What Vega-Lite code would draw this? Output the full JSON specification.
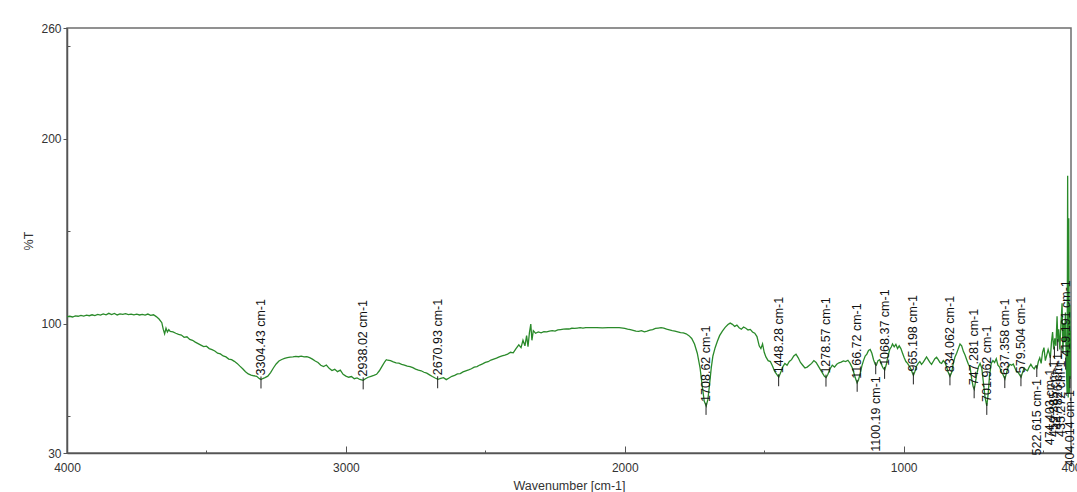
{
  "$schema": "https://vega.github.io/schema/vega-lite/v6.json",
  "width": 1004,
  "height": 425,
  "autosize": "none",
  "padding": {"left": 67, "top": 28, "right": 6, "bottom": 39},
  "background": "white",
  "config": {
    "font": "Liberation Sans",
    "view": {"stroke": "#6e6e6e", "strokeWidth": 1.5},
    "axis": {
      "domainColor": "#555555",
      "domainWidth": 1.5,
      "tickColor": "#555555",
      "labelColor": "#333333",
      "labelFontSize": 12,
      "titleColor": "#333333",
      "titleFontSize": 12.5,
      "titleFontWeight": "normal",
      "grid": false,
      "labelFlush": false,
      "labelOverlap": false
    }
  },
  "datasets": {
    "spectrum": [
      {"wn": 4000, "T": 103.8}, {"wn": 3990, "T": 104.0}, {"wn": 3980, "T": 103.6}, {"wn": 3970, "T": 104.2},
      {"wn": 3960, "T": 104.0}, {"wn": 3950, "T": 104.5}, {"wn": 3940, "T": 104.1}, {"wn": 3930, "T": 104.6},
      {"wn": 3920, "T": 104.3}, {"wn": 3910, "T": 104.8}, {"wn": 3900, "T": 104.4}, {"wn": 3890, "T": 105.0},
      {"wn": 3880, "T": 104.6}, {"wn": 3870, "T": 105.3}, {"wn": 3860, "T": 104.8}, {"wn": 3850, "T": 105.6},
      {"wn": 3840, "T": 104.9}, {"wn": 3830, "T": 105.5}, {"wn": 3820, "T": 104.7}, {"wn": 3810, "T": 105.3},
      {"wn": 3800, "T": 105.0}, {"wn": 3790, "T": 105.4}, {"wn": 3780, "T": 104.9}, {"wn": 3770, "T": 105.2},
      {"wn": 3760, "T": 104.8}, {"wn": 3750, "T": 105.1}, {"wn": 3740, "T": 104.7}, {"wn": 3730, "T": 105.0},
      {"wn": 3720, "T": 104.6}, {"wn": 3710, "T": 105.2}, {"wn": 3700, "T": 104.5}, {"wn": 3690, "T": 104.8},
      {"wn": 3680, "T": 103.8}, {"wn": 3670, "T": 102.5}, {"wn": 3660, "T": 100.5}, {"wn": 3655, "T": 97.0},
      {"wn": 3650, "T": 94.5}, {"wn": 3645, "T": 97.5}, {"wn": 3640, "T": 95.5}, {"wn": 3635, "T": 96.8},
      {"wn": 3630, "T": 95.8}, {"wn": 3620, "T": 95.5}, {"wn": 3610, "T": 94.8}, {"wn": 3600, "T": 94.2},
      {"wn": 3590, "T": 93.8}, {"wn": 3580, "T": 92.6}, {"wn": 3570, "T": 92.9}, {"wn": 3560, "T": 91.5},
      {"wn": 3550, "T": 91.0}, {"wn": 3540, "T": 90.0}, {"wn": 3530, "T": 89.2}, {"wn": 3520, "T": 88.4},
      {"wn": 3510, "T": 87.6}, {"wn": 3500, "T": 87.8}, {"wn": 3490, "T": 86.5}, {"wn": 3480, "T": 85.9},
      {"wn": 3470, "T": 85.2}, {"wn": 3460, "T": 84.0}, {"wn": 3450, "T": 83.6}, {"wn": 3440, "T": 82.5},
      {"wn": 3430, "T": 82.0}, {"wn": 3420, "T": 80.8}, {"wn": 3410, "T": 80.5}, {"wn": 3400, "T": 79.6},
      {"wn": 3390, "T": 78.5}, {"wn": 3380, "T": 77.0}, {"wn": 3370, "T": 75.6}, {"wn": 3360, "T": 74.0},
      {"wn": 3350, "T": 72.8}, {"wn": 3340, "T": 72.2}, {"wn": 3330, "T": 71.8}, {"wn": 3320, "T": 71.5},
      {"wn": 3310, "T": 70.2}, {"wn": 3304, "T": 69.8}, {"wn": 3298, "T": 70.3}, {"wn": 3290, "T": 70.8},
      {"wn": 3280, "T": 71.6}, {"wn": 3270, "T": 73.5}, {"wn": 3260, "T": 76.0}, {"wn": 3250, "T": 78.2},
      {"wn": 3240, "T": 79.8}, {"wn": 3230, "T": 80.6}, {"wn": 3220, "T": 81.2}, {"wn": 3210, "T": 81.6},
      {"wn": 3200, "T": 81.9}, {"wn": 3190, "T": 82.0}, {"wn": 3180, "T": 82.3}, {"wn": 3170, "T": 82.1},
      {"wn": 3160, "T": 82.4}, {"wn": 3150, "T": 82.0}, {"wn": 3140, "T": 82.2}, {"wn": 3130, "T": 81.6},
      {"wn": 3120, "T": 80.8}, {"wn": 3110, "T": 79.8}, {"wn": 3100, "T": 79.0}, {"wn": 3090, "T": 77.5},
      {"wn": 3080, "T": 76.8}, {"wn": 3070, "T": 77.6}, {"wn": 3060, "T": 75.8}, {"wn": 3050, "T": 74.6},
      {"wn": 3040, "T": 75.3}, {"wn": 3030, "T": 74.0}, {"wn": 3020, "T": 74.8}, {"wn": 3010, "T": 72.6},
      {"wn": 3000, "T": 71.6}, {"wn": 2990, "T": 71.0}, {"wn": 2980, "T": 71.4}, {"wn": 2970, "T": 70.2},
      {"wn": 2960, "T": 70.6}, {"wn": 2950, "T": 69.8}, {"wn": 2938, "T": 69.3}, {"wn": 2930, "T": 70.2},
      {"wn": 2920, "T": 71.0}, {"wn": 2910, "T": 71.5}, {"wn": 2900, "T": 72.0}, {"wn": 2890, "T": 72.6},
      {"wn": 2880, "T": 74.5}, {"wn": 2870, "T": 77.0}, {"wn": 2860, "T": 79.5}, {"wn": 2855, "T": 80.5},
      {"wn": 2850, "T": 80.2}, {"wn": 2840, "T": 80.0}, {"wn": 2830, "T": 79.3}, {"wn": 2820, "T": 78.8},
      {"wn": 2810, "T": 78.6}, {"wn": 2800, "T": 78.0}, {"wn": 2790, "T": 77.6}, {"wn": 2780, "T": 77.0},
      {"wn": 2770, "T": 76.8}, {"wn": 2760, "T": 76.2}, {"wn": 2750, "T": 75.4}, {"wn": 2740, "T": 74.8},
      {"wn": 2730, "T": 74.5}, {"wn": 2720, "T": 73.7}, {"wn": 2710, "T": 73.2}, {"wn": 2700, "T": 72.3},
      {"wn": 2690, "T": 71.4}, {"wn": 2680, "T": 70.6}, {"wn": 2670, "T": 69.9}, {"wn": 2660, "T": 70.4},
      {"wn": 2650, "T": 70.8}, {"wn": 2640, "T": 69.7}, {"wn": 2630, "T": 70.6}, {"wn": 2620, "T": 71.5},
      {"wn": 2610, "T": 72.0}, {"wn": 2600, "T": 72.8}, {"wn": 2590, "T": 73.0}, {"wn": 2580, "T": 73.9},
      {"wn": 2570, "T": 74.5}, {"wn": 2560, "T": 75.0}, {"wn": 2550, "T": 75.6}, {"wn": 2540, "T": 76.5},
      {"wn": 2530, "T": 76.8}, {"wn": 2520, "T": 77.6}, {"wn": 2510, "T": 78.2}, {"wn": 2500, "T": 79.0},
      {"wn": 2490, "T": 79.4}, {"wn": 2480, "T": 80.3}, {"wn": 2470, "T": 80.8}, {"wn": 2460, "T": 81.3},
      {"wn": 2450, "T": 82.0}, {"wn": 2440, "T": 82.6}, {"wn": 2430, "T": 83.0}, {"wn": 2420, "T": 83.5},
      {"wn": 2410, "T": 84.5}, {"wn": 2400, "T": 84.2}, {"wn": 2390, "T": 86.5}, {"wn": 2380, "T": 88.5},
      {"wn": 2372, "T": 87.0}, {"wn": 2365, "T": 91.0}, {"wn": 2358, "T": 88.0}, {"wn": 2352, "T": 93.5},
      {"wn": 2347, "T": 87.5}, {"wn": 2342, "T": 95.0}, {"wn": 2337, "T": 99.8}, {"wn": 2333, "T": 91.0},
      {"wn": 2328, "T": 96.2}, {"wn": 2320, "T": 94.8}, {"wn": 2310, "T": 95.5}, {"wn": 2300, "T": 95.0},
      {"wn": 2290, "T": 95.7}, {"wn": 2280, "T": 95.6}, {"wn": 2270, "T": 96.0}, {"wn": 2260, "T": 96.2},
      {"wn": 2250, "T": 96.0}, {"wn": 2240, "T": 96.6}, {"wn": 2230, "T": 96.8}, {"wn": 2220, "T": 97.0},
      {"wn": 2210, "T": 97.2}, {"wn": 2200, "T": 97.1}, {"wn": 2190, "T": 97.5}, {"wn": 2180, "T": 97.4},
      {"wn": 2170, "T": 97.6}, {"wn": 2160, "T": 97.8}, {"wn": 2150, "T": 97.6}, {"wn": 2140, "T": 97.9},
      {"wn": 2120, "T": 97.8}, {"wn": 2100, "T": 97.9}, {"wn": 2080, "T": 97.7}, {"wn": 2060, "T": 97.9},
      {"wn": 2040, "T": 97.8}, {"wn": 2020, "T": 97.8}, {"wn": 2000, "T": 97.5}, {"wn": 1990, "T": 97.0},
      {"wn": 1980, "T": 96.8}, {"wn": 1970, "T": 96.4}, {"wn": 1960, "T": 96.0}, {"wn": 1950, "T": 95.8},
      {"wn": 1940, "T": 96.2}, {"wn": 1930, "T": 95.6}, {"wn": 1920, "T": 96.0}, {"wn": 1910, "T": 96.5},
      {"wn": 1900, "T": 96.8}, {"wn": 1890, "T": 97.4}, {"wn": 1880, "T": 97.6}, {"wn": 1870, "T": 97.8},
      {"wn": 1860, "T": 97.6}, {"wn": 1850, "T": 97.0}, {"wn": 1840, "T": 96.6}, {"wn": 1830, "T": 96.2},
      {"wn": 1820, "T": 96.0}, {"wn": 1810, "T": 95.6}, {"wn": 1800, "T": 95.2}, {"wn": 1790, "T": 95.0},
      {"wn": 1780, "T": 94.5}, {"wn": 1770, "T": 93.5}, {"wn": 1760, "T": 92.0}, {"wn": 1750, "T": 89.0},
      {"wn": 1740, "T": 84.0}, {"wn": 1730, "T": 76.0}, {"wn": 1722, "T": 66.0}, {"wn": 1715, "T": 58.0},
      {"wn": 1708, "T": 55.5}, {"wn": 1702, "T": 59.0}, {"wn": 1696, "T": 67.0}, {"wn": 1690, "T": 76.0},
      {"wn": 1684, "T": 82.5}, {"wn": 1676, "T": 87.0}, {"wn": 1668, "T": 90.5}, {"wn": 1660, "T": 93.5},
      {"wn": 1650, "T": 96.0}, {"wn": 1640, "T": 98.0}, {"wn": 1630, "T": 99.5}, {"wn": 1622, "T": 100.3},
      {"wn": 1614, "T": 99.6}, {"wn": 1606, "T": 98.5}, {"wn": 1598, "T": 99.2}, {"wn": 1590, "T": 97.8},
      {"wn": 1582, "T": 97.0}, {"wn": 1574, "T": 98.2}, {"wn": 1566, "T": 97.5}, {"wn": 1558, "T": 96.6},
      {"wn": 1550, "T": 96.9}, {"wn": 1542, "T": 95.5}, {"wn": 1534, "T": 94.8}, {"wn": 1526, "T": 93.0},
      {"wn": 1518, "T": 88.0}, {"wn": 1512, "T": 86.5}, {"wn": 1506, "T": 89.0}, {"wn": 1500, "T": 84.5},
      {"wn": 1494, "T": 82.0}, {"wn": 1486, "T": 80.0}, {"wn": 1478, "T": 79.5}, {"wn": 1470, "T": 77.0},
      {"wn": 1462, "T": 74.0}, {"wn": 1455, "T": 72.5}, {"wn": 1448, "T": 71.0}, {"wn": 1441, "T": 73.5},
      {"wn": 1434, "T": 76.5}, {"wn": 1426, "T": 78.5}, {"wn": 1418, "T": 77.5}, {"wn": 1410, "T": 79.5},
      {"wn": 1402, "T": 80.5}, {"wn": 1394, "T": 82.5}, {"wn": 1386, "T": 83.5}, {"wn": 1378, "T": 81.5},
      {"wn": 1370, "T": 79.0}, {"wn": 1362, "T": 77.5}, {"wn": 1354, "T": 76.0}, {"wn": 1346, "T": 76.5},
      {"wn": 1338, "T": 77.5}, {"wn": 1330, "T": 78.5}, {"wn": 1322, "T": 80.0}, {"wn": 1314, "T": 79.0},
      {"wn": 1306, "T": 77.0}, {"wn": 1298, "T": 75.0}, {"wn": 1290, "T": 73.0}, {"wn": 1284, "T": 71.5},
      {"wn": 1278, "T": 70.8}, {"wn": 1272, "T": 72.5}, {"wn": 1264, "T": 75.5}, {"wn": 1256, "T": 77.5},
      {"wn": 1248, "T": 76.5}, {"wn": 1240, "T": 78.0}, {"wn": 1232, "T": 78.8}, {"wn": 1224, "T": 79.2},
      {"wn": 1216, "T": 79.8}, {"wn": 1208, "T": 79.5}, {"wn": 1200, "T": 80.2}, {"wn": 1192, "T": 78.5},
      {"wn": 1184, "T": 76.0}, {"wn": 1178, "T": 73.0}, {"wn": 1172, "T": 70.0}, {"wn": 1167, "T": 68.0},
      {"wn": 1162, "T": 69.5}, {"wn": 1156, "T": 73.0}, {"wn": 1150, "T": 77.0}, {"wn": 1144, "T": 80.0},
      {"wn": 1138, "T": 82.5}, {"wn": 1132, "T": 83.5}, {"wn": 1126, "T": 85.5}, {"wn": 1120, "T": 86.0},
      {"wn": 1114, "T": 84.0}, {"wn": 1108, "T": 80.5}, {"wn": 1102, "T": 78.0}, {"wn": 1098, "T": 77.5},
      {"wn": 1092, "T": 80.0}, {"wn": 1086, "T": 80.5}, {"wn": 1080, "T": 78.0}, {"wn": 1074, "T": 76.0},
      {"wn": 1068, "T": 75.0}, {"wn": 1062, "T": 78.0}, {"wn": 1056, "T": 82.5}, {"wn": 1050, "T": 86.0},
      {"wn": 1044, "T": 87.5}, {"wn": 1040, "T": 89.0}, {"wn": 1034, "T": 87.5}, {"wn": 1028, "T": 88.8},
      {"wn": 1022, "T": 86.5}, {"wn": 1016, "T": 88.0}, {"wn": 1010, "T": 86.5}, {"wn": 1004, "T": 84.0},
      {"wn": 998, "T": 81.5}, {"wn": 992, "T": 79.5}, {"wn": 986, "T": 78.5}, {"wn": 980, "T": 77.0},
      {"wn": 974, "T": 75.5}, {"wn": 968, "T": 73.0}, {"wn": 965, "T": 72.0}, {"wn": 960, "T": 74.0},
      {"wn": 954, "T": 77.0}, {"wn": 948, "T": 78.5}, {"wn": 942, "T": 79.5}, {"wn": 936, "T": 78.0},
      {"wn": 930, "T": 79.0}, {"wn": 924, "T": 80.5}, {"wn": 918, "T": 82.0}, {"wn": 912, "T": 80.5},
      {"wn": 906, "T": 79.0}, {"wn": 900, "T": 78.0}, {"wn": 894, "T": 79.5}, {"wn": 888, "T": 81.0},
      {"wn": 882, "T": 81.8}, {"wn": 876, "T": 80.5}, {"wn": 870, "T": 79.0}, {"wn": 864, "T": 78.5},
      {"wn": 858, "T": 80.0}, {"wn": 852, "T": 79.0}, {"wn": 846, "T": 76.5}, {"wn": 840, "T": 73.5},
      {"wn": 834, "T": 71.5}, {"wn": 828, "T": 73.5}, {"wn": 822, "T": 78.5}, {"wn": 816, "T": 82.0},
      {"wn": 810, "T": 84.0}, {"wn": 804, "T": 86.5}, {"wn": 798, "T": 89.0}, {"wn": 792, "T": 88.0},
      {"wn": 786, "T": 85.0}, {"wn": 780, "T": 83.0}, {"wn": 774, "T": 80.5}, {"wn": 768, "T": 78.0},
      {"wn": 762, "T": 76.5}, {"wn": 756, "T": 70.0}, {"wn": 751, "T": 66.0}, {"wn": 747, "T": 64.5},
      {"wn": 743, "T": 68.0}, {"wn": 738, "T": 72.5}, {"wn": 732, "T": 76.5}, {"wn": 726, "T": 78.5},
      {"wn": 720, "T": 76.0}, {"wn": 714, "T": 68.0}, {"wn": 708, "T": 60.0}, {"wn": 702, "T": 55.5},
      {"wn": 697, "T": 62.0}, {"wn": 692, "T": 72.0}, {"wn": 686, "T": 78.5}, {"wn": 680, "T": 80.0},
      {"wn": 674, "T": 79.0}, {"wn": 668, "T": 81.0}, {"wn": 662, "T": 77.5}, {"wn": 656, "T": 76.5},
      {"wn": 650, "T": 74.0}, {"wn": 644, "T": 72.5}, {"wn": 637, "T": 70.0}, {"wn": 631, "T": 73.5},
      {"wn": 625, "T": 76.5}, {"wn": 619, "T": 78.0}, {"wn": 613, "T": 77.5}, {"wn": 607, "T": 78.2},
      {"wn": 601, "T": 76.0}, {"wn": 595, "T": 74.0}, {"wn": 589, "T": 73.5}, {"wn": 583, "T": 72.0},
      {"wn": 579, "T": 71.0}, {"wn": 574, "T": 73.5}, {"wn": 568, "T": 76.0}, {"wn": 562, "T": 75.0},
      {"wn": 556, "T": 74.5}, {"wn": 550, "T": 76.5}, {"wn": 544, "T": 78.0}, {"wn": 538, "T": 76.5},
      {"wn": 532, "T": 75.5}, {"wn": 527, "T": 77.0}, {"wn": 522, "T": 76.0}, {"wn": 517, "T": 79.5},
      {"wn": 512, "T": 81.5}, {"wn": 507, "T": 78.5}, {"wn": 502, "T": 84.5}, {"wn": 497, "T": 87.0},
      {"wn": 492, "T": 80.0}, {"wn": 487, "T": 83.0}, {"wn": 482, "T": 86.0}, {"wn": 478, "T": 84.0},
      {"wn": 474, "T": 81.5}, {"wn": 470, "T": 90.0}, {"wn": 466, "T": 95.5}, {"wn": 462, "T": 86.0},
      {"wn": 458, "T": 92.0}, {"wn": 454, "T": 88.0}, {"wn": 450, "T": 104.0}, {"wn": 447, "T": 90.0},
      {"wn": 444, "T": 97.0}, {"wn": 440, "T": 86.0}, {"wn": 436, "T": 100.0}, {"wn": 432, "T": 111.0},
      {"wn": 429, "T": 84.0}, {"wn": 426, "T": 100.0}, {"wn": 423, "T": 90.0}, {"wn": 420, "T": 106.0},
      {"wn": 417, "T": 80.0}, {"wn": 414, "T": 62.0}, {"wn": 412, "T": 180.0}, {"wn": 410, "T": 60.0},
      {"wn": 408, "T": 157.0}, {"wn": 406, "T": 62.0}, {"wn": 404, "T": 110.0}, {"wn": 402, "T": 70.0},
      {"wn": 400, "T": 96.0}
    ],
    "peaks": [
      {"wn": 3304.43, "T": 69.8, "label": "3304.43 cm-1"},
      {"wn": 2938.02, "T": 69.3, "label": "2938.02 cm-1"},
      {"wn": 2670.93, "T": 69.9, "label": "2670.93 cm-1"},
      {"wn": 1708.62, "T": 55.5, "label": "1708.62 cm-1"},
      {"wn": 1448.28, "T": 71.0, "label": "1448.28 cm-1"},
      {"wn": 1278.57, "T": 70.8, "label": "1278.57 cm-1"},
      {"wn": 1166.72, "T": 68.0, "label": "1166.72 cm-1"},
      {"wn": 1100.19, "T": 77.5, "label": "1100.19 cm-1"},
      {"wn": 1068.37, "T": 75.0, "label": "1068.37 cm-1"},
      {"wn": 965.198, "T": 72.0, "label": "965.198 cm-1"},
      {"wn": 834.062, "T": 71.5, "label": "834.062 cm-1"},
      {"wn": 747.281, "T": 64.5, "label": "747.281 cm-1"},
      {"wn": 701.962, "T": 55.5, "label": "701.962 cm-1"},
      {"wn": 637.358, "T": 70.0, "label": "637.358 cm-1"},
      {"wn": 579.504, "T": 71.0, "label": "579.504 cm-1"},
      {"wn": 522.615, "T": 76.0, "label": "522.615 cm-1"},
      {"wn": 474.403, "T": 81.5, "label": "474.403 cm-1"},
      {"wn": 459.385, "T": 86.0, "label": "459.385 cm-1"},
      {"wn": 447.826, "T": 90.0, "label": "447.826 cm-1"},
      {"wn": 435.272, "T": 86.0, "label": "435.272 cm-1"},
      {"wn": 419.191, "T": 80.0, "label": "419.191 cm-1"},
      {"wn": 404.014, "T": 70.0, "label": "404.014 cm-1"}
    ]
  },
  "encoding": {
    "x": {
      "field": "wn",
      "type": "quantitative",
      "scale": {"domain": [4000, 400], "nice": false, "zero": false},
      "axis": {
        "title": "Wavenumber [cm-1]",
        "values": [4000, 3500, 3000, 2500, 2000, 1500, 1000, 500, 400],
        "labelExpr": "datum.value == 3500 || datum.value == 2500 || datum.value == 1500 || datum.value == 500 ? '' : datum.label",
        "format": "d",
        "tickSize": {"condition": {"test": "datum.value == 3500 || datum.value == 2500 || datum.value == 1500 || datum.value == 500", "value": -3}, "value": -7},
        "labelPadding": 16,
        "titlePadding": 2
      }
    },
    "y": {
      "field": "T",
      "type": "quantitative",
      "scale": {"domain": [30, 260], "nice": false, "zero": false},
      "axis": {
        "title": "%T",
        "values": [30, 50, 100, 150, 200, 250, 260],
        "labelExpr": "datum.value == 50 || datum.value == 150 || datum.value == 250 ? '' : datum.label",
        "tickSize": {"condition": {"test": "datum.value == 50 || datum.value == 150 || datum.value == 250", "value": -3}, "value": 4},
        "labelPadding": 2,
        "titlePadding": 5
      }
    }
  },
  "layer": [
    {
      "data": {"name": "spectrum"},
      "mark": {"type": "line", "color": "#2a8a2a", "strokeWidth": 1.3, "interpolate": "linear", "clip": true}
    },
    {
      "data": {"name": "peaks"},
      "mark": {"type": "rule", "color": "#222222", "strokeWidth": 1, "yOffset": -3, "y2Offset": 9},
      "encoding": {"y2": {"field": "T"}}
    },
    {
      "data": {"name": "peaks"},
      "transform": [
        {"filter": {"not": {"field": "wn", "oneOf": [1100.19, 522.615, 474.403, 459.385, 447.826, 435.272, 404.014]}}}
      ],
      "mark": {"type": "text", "angle": 270, "align": "left", "baseline": "middle", "dx": 4, "fontSize": 12.5, "color": "#111111"},
      "encoding": {"text": {"field": "label"}}
    },
    {
      "data": {"name": "peaks"},
      "transform": [
        {"filter": {"field": "wn", "oneOf": [1100.19, 522.615, 474.403, 459.385, 447.826, 435.272, 404.014]}}
      ],
      "mark": {"type": "text", "angle": 270, "align": "right", "baseline": "middle", "dx": -11, "fontSize": 12.5, "color": "#111111"},
      "encoding": {"text": {"field": "label"}}
    }
  ]
}
